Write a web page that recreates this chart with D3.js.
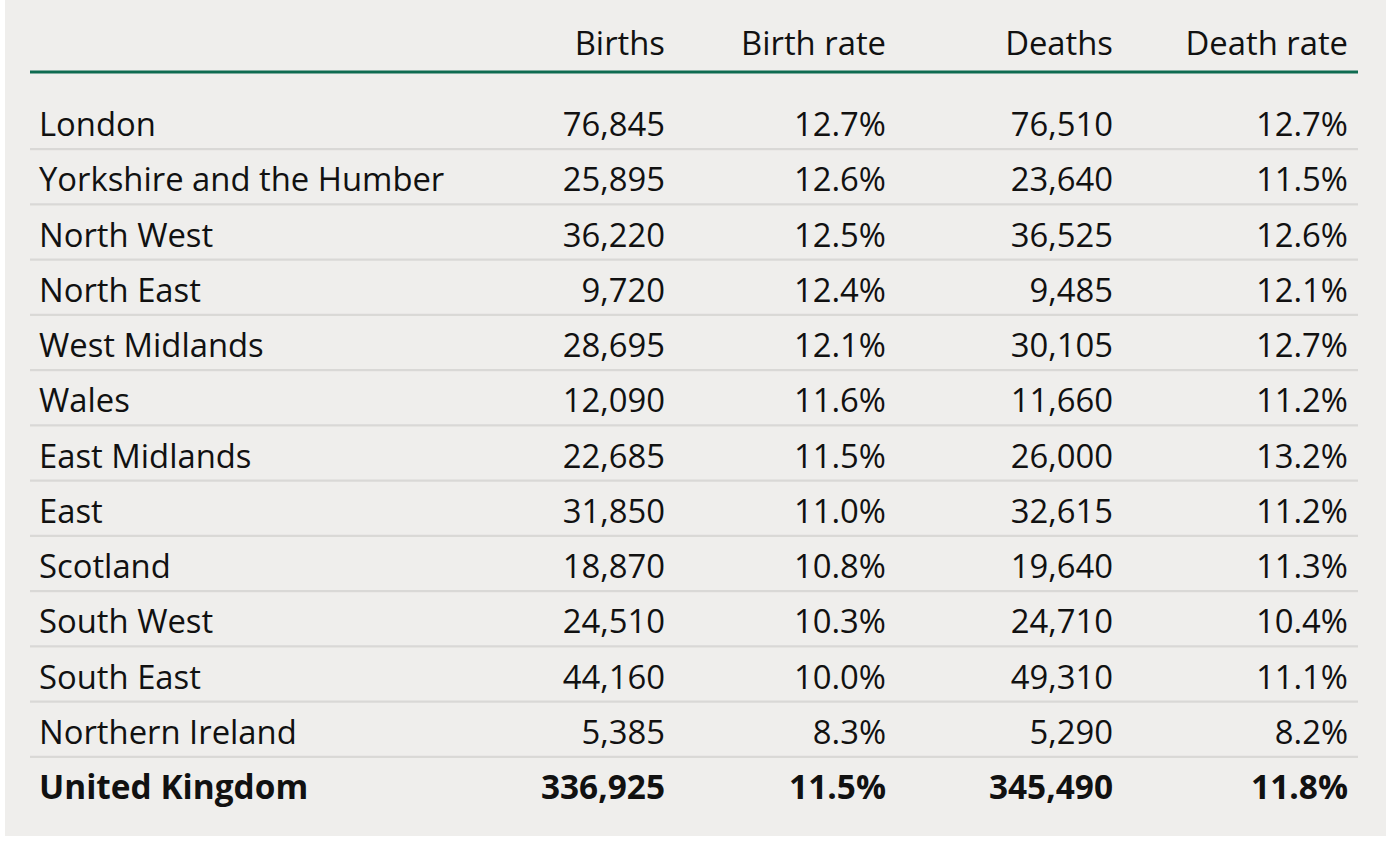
<!DOCTYPE html>
<html><head><meta charset="utf-8">
<script src="https://cdn.jsdelivr.net/npm/d3@7"></script>
<style>
html,body{margin:0;padding:0;background:#ffffff;}
svg{display:block;}
text{font-family:"Open Sans","Noto Sans",sans-serif;}
</style></head>
<body><svg id="chart" width="1392" height="844"></svg>
<script>
const columns = ["Births","Birth rate","Deaths","Death rate"];
const regions = ["London","Yorkshire and the Humber","North West","North East","West Midlands","Wales","East Midlands","East","Scotland","South West","South East","Northern Ireland","United Kingdom"];
const births = [76845,25895,36220,9720,28695,12090,22685,31850,18870,24510,44160,5385,336925];
const birthRate = [12.7,12.6,12.5,12.4,12.1,11.6,11.5,11.0,10.8,10.3,10.0,8.3,11.5];
const deaths = [76510,23640,36525,9485,30105,11660,26000,32615,19640,24710,49310,5290,345490];
const deathRate = [12.7,11.5,12.6,12.1,12.7,11.2,13.2,11.2,11.3,10.4,11.1,8.2,11.8];
const totalRow = "United Kingdom";

const svg = d3.select("#chart");
svg.append("rect").attr("x",5).attr("y",0).attr("width",1381).attr("height",836).attr("fill","#efeeec");

const left = 30, right = 1358;
const colX = d3.scaleOrdinal().domain(columns).range([665,886,1113,1348]);
const y = d3.scaleBand().domain(regions).range([95.5, 95.5 + 55.25*regions.length]).padding(0);

const fs = 32.8, fsBold = 33.4;
// header
svg.selectAll("text.hdr").data(columns).join("text").attr("class","hdr")
  .attr("x", d => colX(d)).attr("y", 55).attr("text-anchor","end")
  .attr("font-size", fs).attr("fill","#111").text(d => d);
svg.append("rect").attr("x",left).attr("y",70.5).attr("width",right-left).attr("height",3).attr("fill","#0e6b50");

const fmtN = d3.format(",");
const fmtP = d => d.toFixed(1) + "%";
const rows = regions.map((r,i) => ({region:r, vals:[fmtN(births[i]), fmtP(birthRate[i]), fmtN(deaths[i]), fmtP(deathRate[i])]}));

const g = svg.selectAll("g.row").data(rows).join("g").attr("class","row")
  .attr("transform", d => `translate(0,${y(d.region)})`);
g.filter((d,i) => i < rows.length-1).append("rect")
  .attr("x",left).attr("y",52.5).attr("width",right-left).attr("height",2.2).attr("fill","#d9d8d6");
g.append("text").attr("x",39).attr("y",40.5)
  .attr("font-size", d => d.region===totalRow ? fsBold : fs).attr("fill","#111")
  .attr("font-weight", d => d.region===totalRow ? 700 : 400).text(d => d.region);
g.selectAll("text.v").data(d => d.vals.map((v,j)=>({v, c:columns[j], bold:d.region===totalRow}))).join("text").attr("class","v")
  .attr("x", d => colX(d.c)).attr("y",40.5).attr("text-anchor","end")
  .attr("font-size", d => d.bold ? fsBold : fs).attr("fill","#111")
  .attr("font-weight", d => d.bold ? 700 : 400).text(d => d.v);
</script></body></html>
